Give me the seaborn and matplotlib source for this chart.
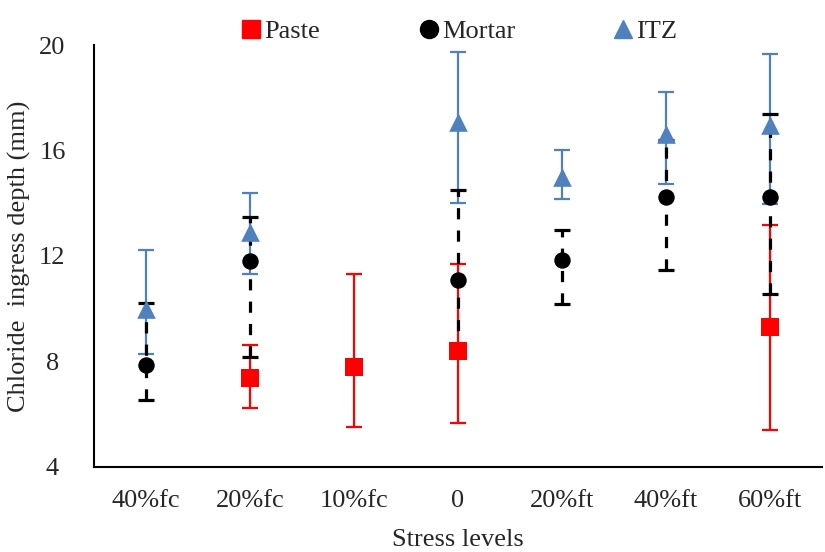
import numpy as np
import pandas as pd
import matplotlib.pyplot as plt
import seaborn as sns

sns.set_style("white")
plt.rcParams['font.family'] = ['Liberation Serif', 'DejaVu Serif']

# dados
stress = ['40%fc', '20%fc', '10%fc', '0', '20%ft', '40%ft', '60%ft']

paste_mean = [np.nan, 7.37, 7.8, 8.41, np.nan, np.nan, 9.3]
paste_low = [np.nan, 6.22, 5.52, 5.65, np.nan, np.nan, 5.39]
paste_high = [np.nan, 8.61, 11.3, 11.68, np.nan, np.nan, 13.16]

mortar_mean = [7.87, 11.81, np.nan, 11.1, 11.83, 14.24, 14.24]
mortar_low = [6.55, 8.18, np.nan, 8.3, 10.19, 11.48, 10.54]
mortar_high = [10.21, 13.48, np.nan, 14.49, 13.0, 16.42, 17.38]

itz_mean = [10.0, 12.9, np.nan, 17.1, 15.0, 16.65, 16.97]
itz_low = [8.28, 11.33, np.nan, 14.03, 14.18, 14.75, 13.96]
itz_high = [12.21, 14.39, np.nan, 19.75, 16.04, 18.23, 19.67]

series = ['Paste', 'Mortar', 'ITZ']
colors = {'Paste': '#FF0000', 'Mortar': '#000000', 'ITZ': '#4F81BD'}
markers = {'Paste': 's', 'Mortar': 'o', 'ITZ': '^'}
sizes = {'Paste': 150, 'Mortar': 140, 'ITZ': 180}

tabela = {
    'Paste': (paste_mean, paste_low, paste_high),
    'Mortar': (mortar_mean, mortar_low, mortar_high),
    'ITZ': (itz_mean, itz_low, itz_high),
}

rows = []
for s in series:
    m, lo, hi = tabela[s]
    for i, cat in enumerate(stress):
        rows.append({'pos': i, 'stress': cat, 'serie': s, 'depth': m[i],
                     'low': lo[i], 'high': hi[i]})
df = pd.DataFrame(rows).dropna()

fig = plt.figure(figsize=(8.25, 5.52), dpi=100)
ax = fig.add_axes([0.114, 0.1545, 0.882, 0.7635])

# barras de erro (Paste, ITZ, depois Mortar tracejado)
for s in ['Paste', 'ITZ', 'Mortar']:
    d = df[df['serie'] == s]
    err = [d['depth'] - d['low'], d['high'] - d['depth']]
    lw = 2.3 if s == 'Mortar' else 1.6
    eb = ax.errorbar(d['pos'], d['depth'], yerr=err, fmt='none',
                     ecolor=colors[s], elinewidth=lw, capsize=5.5,
                     capthick=lw, zorder=2)
    if s == 'Mortar':
        eb[2][0].set_linestyle((0, (3.5, 3.5)))

# marcadores
for s in series:
    d = df[df['serie'] == s]
    sns.scatterplot(data=d, x='pos', y='depth', ax=ax, color=colors[s],
                    marker=markers[s], s=sizes[s], edgecolor=colors[s],
                    linewidth=0, label=s, zorder=3, legend=False)

ax.set_xlim(-0.5, 6.5)
ax.set_ylim(4, 20)
ax.set_yticks([4, 8, 12, 16, 20])
ax.set_xticks(range(len(stress)))
ax.set_xticklabels(stress)
ax.set_xticks(np.arange(0.5, 6.6, 1), minor=True)
ax.tick_params(axis='x', which='major', length=0, labelsize=19, pad=17)
ax.tick_params(axis='x', which='minor', direction='in', length=7, width=1.5,
               color='black')
ax.tick_params(axis='y', direction='in', length=5, width=1.5, labelsize=19,
               color='black', pad=30)
for t in ax.get_yticklabels():
    t.set_horizontalalignment('center')

ax.spines['top'].set_visible(False)
ax.spines['right'].set_visible(False)
ax.spines['left'].set_linewidth(1.5)
ax.spines['bottom'].set_linewidth(1.5)
ax.spines['left'].set_color('black')
ax.spines['bottom'].set_color('black')

ax.set_xlabel('Stress levels', fontsize=19, labelpad=12)
ax.set_ylabel('Chloride  ingress depth (mm)', fontsize=19, labelpad=6)

handles = [plt.Line2D([], [], linestyle='none', marker=markers[s],
                      color=colors[s], markersize=13) for s in series]
fig.legend(handles, series, loc='center', bbox_to_anchor=(0.555, 0.943),
           ncol=3, frameon=False, fontsize=19, handletextpad=0.0,
           columnspacing=3.6, handlelength=1.0)

plt.savefig('out.png', dpi=100)
